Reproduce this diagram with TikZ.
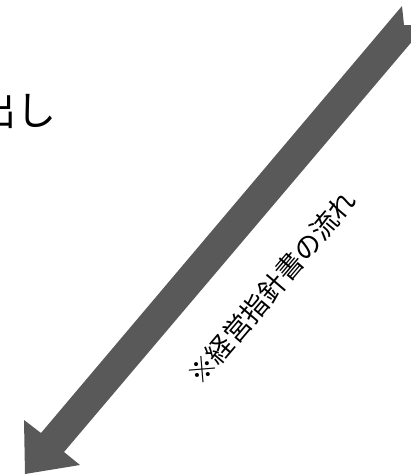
\documentclass[tikz,border=0pt]{standalone}
\usepackage{fontspec}
\newfontfamily\jpfont{Noto Sans CJK JP}
\definecolor{arrowgray}{RGB}{89,89,89}
\tikzset{
  bigarrow/.style={fill=arrowgray},
  bigtext/.style={inner sep=0pt, font=\jpfont\fontsize{40}{48}\selectfont},
  flowtext/.style={inner sep=0pt, font=\jpfont\fontsize{27}{32}\selectfont}
}
\begin{document}
\begin{tikzpicture}[x=1pt,y=-1pt]
\useasboundingbox (0,0) rectangle (411,475);
\clip (0,0) rectangle (411,475);
\fill[bigarrow] (402,6) -- (404,25) -- (426,25) -- (64,452) -- (80,465) -- (25,474) -- (24,420) -- (41,433) -- cycle;
\node[bigtext, anchor=base] (dashi) at (16.5,125) {出し};
\node[flowtext, rotate=49.7] (flow) at (272,287.5) {※経営指針書の流れ};
\end{tikzpicture}
\end{document}
